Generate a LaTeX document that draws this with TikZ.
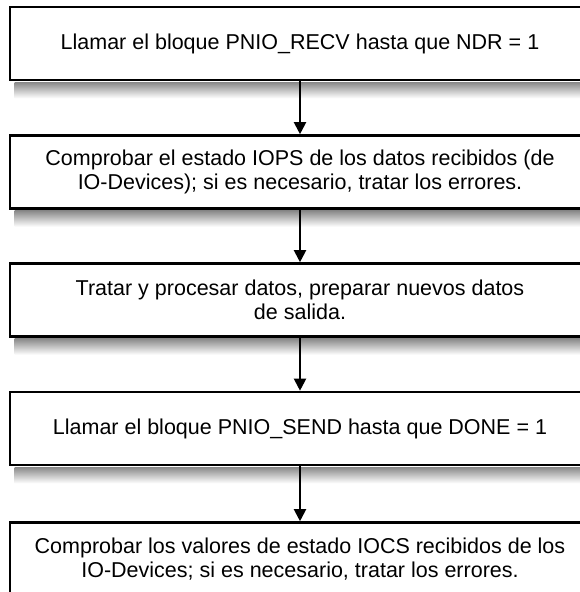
\documentclass[tikz,border=0pt]{standalone}
\usepackage{fontspec}
\setmainfont{Liberation Sans}
\usetikzlibrary{arrows.meta, positioning, calc}
\definecolor{tinta}{HTML}{000000}
\definecolor{sombra}{HTML}{8A8A8A}
\tikzset{
  paso/.style={rectangle, minimum width=580pt, minimum height=73pt, text centered,
               draw=tinta, line width=2.6pt, fill=white, align=center,
               font=\fontsize{21.5}{24.5}\selectfont},
  arrow/.style={line width=2pt, -{Triangle[width=12pt,length=12pt]}, color=tinta},
  sombrita/.style={top color=sombra, bottom color=white, draw=none}
}
\begin{document}
\begin{tikzpicture}[x=1pt, y=1pt]
  \useasboundingbox (0,0) rectangle (580,-592);
  % pasos del ciclo
  \node (recv) [paso] at (300,-43.5) {Llamar el bloque PNIO\_RECV hasta que NDR = 1};
  \node (iops) [paso] at (300,-172) {Comprobar el estado IOPS de los datos recibidos (de\\IO-Devices); si es necesario, tratar los errores.};
  \node (proc) [paso] at (300,-300) {Tratar y procesar datos, preparar nuevos datos\\de salida.};
  \node (send) [paso] at (300,-428.5) {Llamar el bloque PNIO\_SEND hasta que DONE = 1};
  \node (iocs) [paso] at (300,-559) {Comprobar los valores de estado IOCS recibidos de los\\IO-Devices; si es necesario, tratar los errores.};
  % sombras
  \begin{scope}[on background layer/.try]
  \foreach \caja in {recv, iops, proc, send}
    \shade [sombrita] ($(\caja.south west)+(6,-1)$) rectangle ($(\caja.south east)+(0,-17)$);
  \end{scope}
  \draw [arrow] (recv.south) -- (iops.north);
  \draw [arrow] (iops.south) -- (proc.north);
  \draw [arrow] (proc.south) -- (send.north);
  \draw [arrow] (send.south) -- (iocs.north);
\end{tikzpicture}
\end{document}
